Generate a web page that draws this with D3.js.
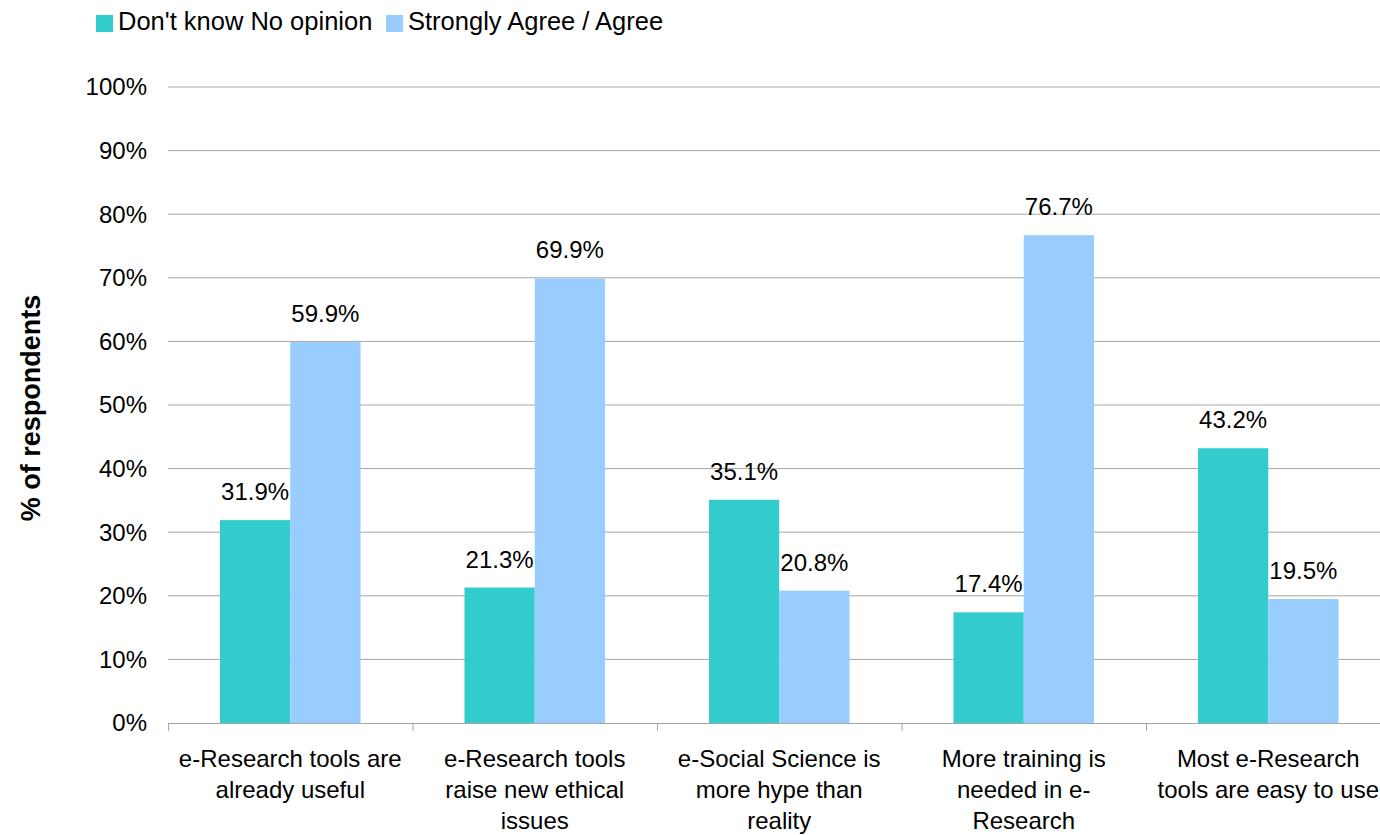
<!DOCTYPE html>
<html>
<head>
<meta charset="utf-8">
<script src="https://cdn.jsdelivr.net/npm/d3@7"></script>
<style>
  body { margin: 0; background: #fff; }
  text { font-family: "Liberation Sans", Arial, sans-serif; fill: #000; }
</style>
</head>
<body>
<script>
// data
let categories = [
  "e-Research tools are already useful",
  "e-Research tools raise new ethical issues",
  "e-Social Science is more hype than reality",
  "More training is needed in e-Research",
  "Most e-Research tools are easy to use"
];
// how the axis labels wrap in the original
let categoryLines = [
  ["e-Research tools are", "already useful"],
  ["e-Research tools", "raise new ethical", "issues"],
  ["e-Social Science is", "more hype than", "reality"],
  ["More training is", "needed in e-", "Research"],
  ["Most e-Research", "tools are easy to use"]
];
let seriesNames = ["Don't know No opinion", "Strongly Agree / Agree"];
let dontKnow = [31.9, 21.3, 35.1, 17.4, 43.2];
let agree = [59.9, 69.9, 20.8, 76.7, 19.5];
let yTicks = [0, 10, 20, 30, 40, 50, 60, 70, 80, 90, 100];
let colors = ["#33CCCC", "#99CCFF"];

let W = 1380, H = 835;
let margin = {top: 87, left: 168, bottom: 112};
let plotW = 244.5 * 5;
let plotH = H - margin.top - margin.bottom;

let svg = d3.select("body").append("svg")
  .attr("width", W)
  .attr("height", H);

let g = svg.append("g")
  .attr("transform", "translate(" + margin.left + "," + margin.top + ")");

let x = d3.scaleBand().domain(categories).range([0, plotW]).paddingInner(0).paddingOuter(0);
let inner = d3.scaleBand().domain([0, 1]).range([0, x.bandwidth()]).paddingOuter(0.74).paddingInner(0);
let y = d3.scaleLinear().domain([0, 100]).range([plotH, 0]);

// gridlines
g.selectAll(".grid")
  .data(yTicks.slice(1))
  .enter().append("line")
  .attr("x1", 0).attr("x2", W - margin.left)
  .attr("y1", d => y(d)).attr("y2", d => y(d))
  .attr("stroke", "#a6a6a6").attr("stroke-width", 1);

// y tick labels
g.selectAll(".ylab")
  .data(yTicks)
  .enter().append("text")
  .attr("x", -21)
  .attr("y", d => y(d))
  .attr("dy", "0.35em")
  .attr("text-anchor", "end")
  .style("font-size", "24px")
  .text(d => d + "%");

// bars
let data = [dontKnow, agree];
data.forEach(function(vals, s) {
  g.selectAll(".bar" + s)
    .data(vals)
    .enter().append("rect")
    .attr("x", (d, i) => x(categories[i]) + inner(s))
    .attr("width", inner.bandwidth())
    .attr("y", d => y(d))
    .attr("height", d => plotH - y(d))
    .attr("fill", colors[s]);

  g.selectAll(".val" + s)
    .data(vals)
    .enter().append("text")
    .attr("x", (d, i) => x(categories[i]) + inner(s) + inner.bandwidth() / 2)
    .attr("y", d => y(d) - 20)
    .attr("text-anchor", "middle")
    .style("font-size", "24px")
    .text(d => d.toFixed(1) + "%");
});

// x axis baseline and ticks
g.append("line")
  .attr("x1", 0).attr("x2", W - margin.left)
  .attr("y1", plotH + 0.5).attr("y2", plotH + 0.5)
  .attr("stroke", "#a6a6a6");
g.selectAll(".xtick")
  .data(categories.map((c, i) => i))
  .enter().append("line")
  .attr("x1", i => i * x.bandwidth() + 0.5).attr("x2", i => i * x.bandwidth() + 0.5)
  .attr("y1", plotH).attr("y2", plotH + 8)
  .attr("stroke", "#a6a6a6");

// category labels
categories.forEach(function(c, i) {
  let t = g.append("text")
    .attr("x", x(c) + x.bandwidth() / 2)
    .attr("y", plotH + 44)
    .attr("text-anchor", "middle")
    .style("font-size", "24px");
  categoryLines[i].forEach(function(line, k) {
    t.append("tspan")
      .attr("x", x(c) + x.bandwidth() / 2)
      .attr("dy", k === 0 ? 0 : 31)
      .text(line);
  });
});

// y axis title
svg.append("text")
  .attr("transform", "translate(40,408) rotate(-90)")
  .attr("text-anchor", "middle")
  .style("font-size", "27px")
  .style("font-weight", "bold")
  .text("% of respondents");

// legend
let legendX = [96, 386];
seriesNames.forEach(function(name, s) {
  svg.append("rect")
    .attr("x", legendX[s]).attr("y", 15)
    .attr("width", 17).attr("height", 17)
    .attr("fill", colors[s]);
  svg.append("text")
    .attr("x", legendX[s] + 22).attr("y", 30)
    .style("font-size", "25.5px")
    .text(name);
});
</script>
</body>
</html>
